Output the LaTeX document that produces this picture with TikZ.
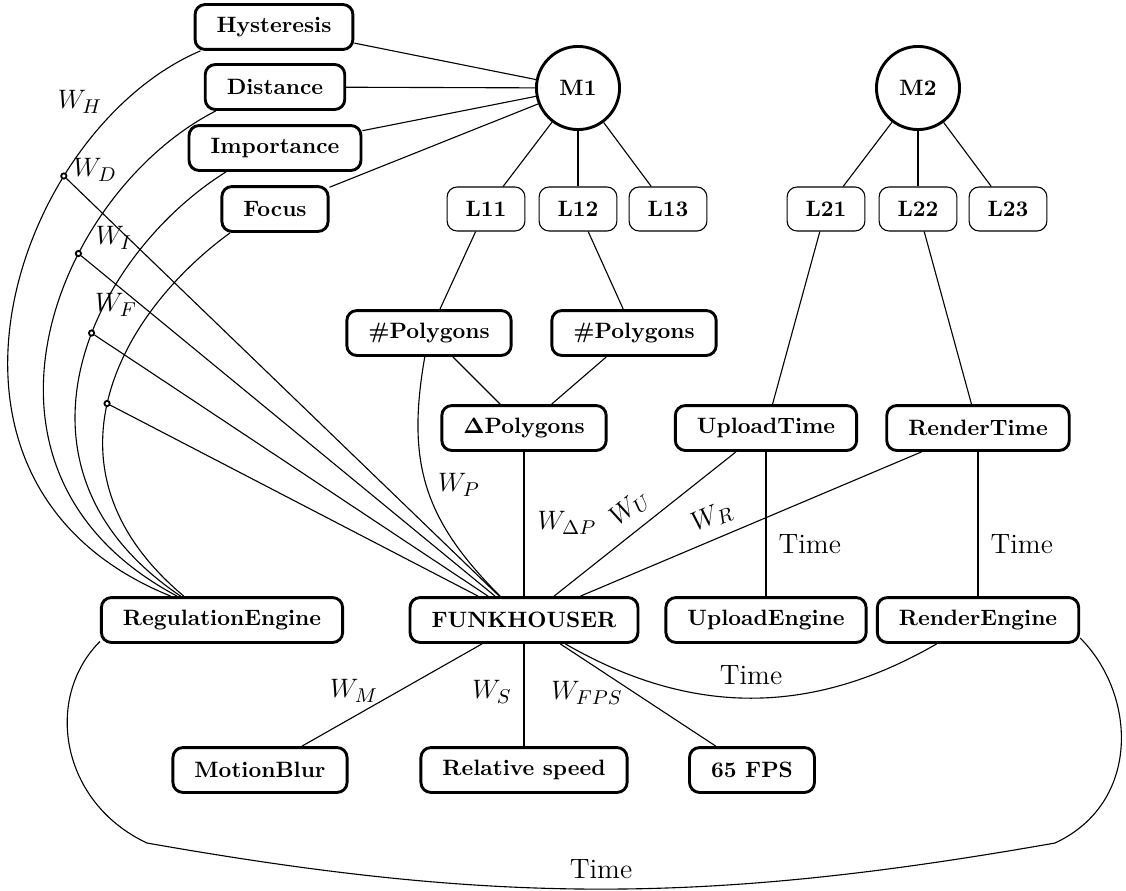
\documentclass[tikz,border=0pt]{standalone}
\usetikzlibrary{shapes.geometric}
\begin{document}
\begin{tikzpicture}[x=0.45pt,y=0.45pt,
  box/.style={draw, line width=1.3pt, rounded corners=4.5pt, fill=white, font=\bfseries, inner xsep=9.7pt, inner ysep=0pt, minimum height=20.2pt},
  lbox/.style={draw, line width=0.5pt, rounded corners=4.5pt, fill=white, font=\bfseries, inner xsep=8.3pt, inner ysep=0pt, minimum height=19.8pt},
  mnode/.style={draw, circle, line width=1.3pt, fill=white, font=\bfseries, minimum size=37.4pt, inner sep=0pt},
  conn/.style={line width=0.5pt},
  dotn/.style={draw, circle, fill=white, line width=0.8pt, inner sep=0pt, minimum size=2.4pt},
  lab/.style={font=\fontsize{12.6}{15}\selectfont, inner sep=1pt},
]
\useasboundingbox (0,0) rectangle (1126,-890);

% nodes
\node[box] (hyst) at (274,-27) {Hysteresis};
\node[box] (dist) at (275,-87) {Distance};
\node[box] (imp) at (275,-148) {Importance};
\node[box] (foc) at (275,-209) {Focus};
\node[mnode] (m1) at (578,-88) {M1};
\node[mnode] (m2) at (918,-88) {M2};
\node[lbox] (l11) at (486,-209) {L11};
\node[lbox] (l12) at (578,-209) {L12};
\node[lbox] (l13) at (668,-209) {L13};
\node[lbox] (l21) at (826,-209) {L21};
\node[lbox] (l22) at (918,-209) {L22};
\node[lbox] (l23) at (1008,-209) {L23};
\node[box] (p1) at (429,-333) {\#Polygons};
\node[box] (p2) at (634,-333) {\#Polygons};
\node[box] (dp) at (524,-428) {$\mathbf{\Delta}$Polygons};
\node[box] (ut) at (766,-428) {UploadTime};
\node[box] (rt) at (978,-428) {RenderTime};
\node[box] (reg) at (222,-620) {RegulationEngine};
\node[box] (funk) at (524,-620) {FUNKHOUSER};
\node[box] (ue) at (766,-620) {UploadEngine};
\node[box] (re) at (978,-620) {RenderEngine};
\node[box] (mb) at (260,-770) {MotionBlur};
\node[box] (rs) at (524,-770) {Relative speed};
\node[box] (fps) at (752,-770) {65 FPS};

\coordinate (k1) at (147,-843);
\coordinate (k2) at (1055,-843);

% connectors to M1 / M2
\draw[conn] (hyst) -- (m1);
\draw[conn] (dist) -- (m1);
\draw[conn] (imp) -- (m1);
\draw[conn] (foc) -- (m1);
\draw[conn] (m1) -- (l11);
\draw[conn] (m1) -- (l12);
\draw[conn] (m1) -- (l13);
\draw[conn] (m2) -- (l21);
\draw[conn] (m2) -- (l22);
\draw[conn] (m2) -- (l23);
\draw[conn] (l11) -- (p1);
\draw[conn] (l12) -- (p2);
\draw[conn] (p1) -- (dp);
\draw[conn] (p2) -- (dp);
\draw[conn] (l21) -- (ut);
\draw[conn] (l22) -- (rt);
\draw[conn] (ut) -- node[lab, pos=0.64, right=4.4pt] {Time} (ue);
\draw[conn] (rt) -- node[lab, pos=0.64, right=4.4pt] {Time} (re);

% into FUNKHOUSER
\draw[conn] (dp) -- (funk);
\draw[conn] (ut) -- (funk);
\draw[conn] (rt) -- (funk);
\draw[conn] (p1) to[out=-100, in=135, looseness=1.1] (funk);
\draw[conn] (funk) -- (mb);
\draw[conn] (funk) -- (rs);
\draw[conn] (funk) -- (fps);
\draw[conn] (funk) to[bend right=30] node[lab, midway, above=5pt] {Time} (re);

% arcs to RegulationEngine
\draw[conn] (hyst.198) to[out=203, in=158, out distance=90pt, in distance=135pt] node[dotn, pos=0.29] (dh) {} (reg.155);
\draw[conn] (dist.202) to[out=207, in=152, out distance=80pt, in distance=120pt] node[dotn, pos=0.35] (dd) {} (reg.152);
\draw[conn] (imp.206) to[out=212, in=146, out distance=70pt, in distance=105pt] node[dotn, pos=0.43] (di) {} (reg.150);
\draw[conn] (foc.208) to[out=216, in=140, out distance=60pt, in distance=90pt] node[dotn, pos=0.52] (df) {} (reg.148);
\draw[conn] (dh) -- (funk);
\draw[conn] (dd) -- (funk);
\draw[conn] (di) -- (funk);
\draw[conn] (df) -- (funk);

% big loop
\draw[conn] (reg.190) to[out=225, in=155, out distance=36pt, in distance=42.8pt] (k1)
  to[out=-10, in=190] node[lab, midway, above=3.5pt] {Time} (k2)
  to[out=25, in=-45, out distance=42.8pt, in distance=36pt] (re.-10);

% weight labels
\node[lab] (wh) at (80,-102) {$W_H$};
\node[lab] (wd) at (95,-170) {$W_D$};
\node[lab] (wi) at (114,-238) {$W_I$};
\node[lab] (wf) at (116,-305) {$W_F$};
\node[lab] (wp) at (459,-485) {$W_P$};
\node[lab] (wdp) at (567,-523) {$W_{\Delta P}$};
\node[lab, rotate=38.4] (wu) at (630,-508) {$W_U$};
\node[lab, rotate=22.9] (wr) at (712,-517) {$W_R$};
\node[lab] (wm) at (354,-691) {$W_M$};
\node[lab] (ws) at (492,-692) {$W_S$};
\node[lab] (wfps) at (587,-693) {$W_{FPS}$};
\end{tikzpicture}
\end{document}
